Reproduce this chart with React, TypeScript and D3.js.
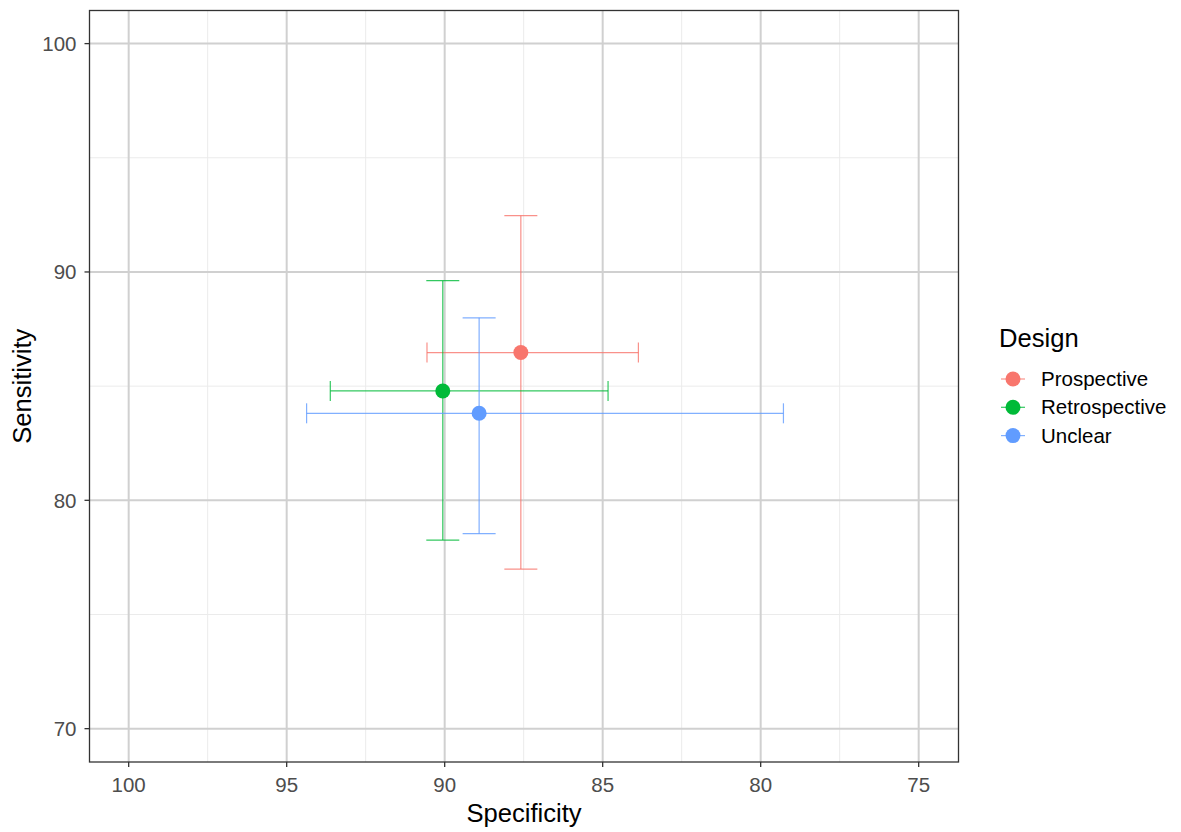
import { useEffect } from 'react';
import * as d3 from 'd3';

// study design groups, with summary estimates and 95% CI
const designs = ['Prospective', 'Retrospective', 'Unclear'];
const colors = ['#F8766D', '#00BA38', '#619CFF'];
const specificity = [87.59, 90.06, 88.91];
const specLow = [83.87, 84.83, 79.28];
const specHigh = [90.56, 93.62, 94.37];
const sensitivity = [86.47, 84.79, 83.81];
const sensLow = [76.99, 78.26, 78.54];
const sensHigh = [92.47, 89.62, 87.99];

const xTicks = [100, 95, 90, 85, 80, 75];
const xMinor = [97.5, 92.5, 87.5, 82.5, 77.5];
const yTicks = [70, 80, 90, 100];
const yMinor = [75, 85, 95];

const W = 1181;
const H = 832;
const left = 89.5;
const right = 958.5;
const top = 10.5;
const bottom = 762;

const App = () => {
  useEffect(() => {
    document.body.style.margin = '0';
  }, []);

  const x = d3.scaleLinear().domain([101.24, 73.74]).range([left, right]);
  const y = d3.scaleLinear().domain([101.45, 68.54]).range([top, bottom]);
  const font = 'Liberation Sans, Arial, sans-serif';
  const tickSize = 20.5;
  const titleSize = 25.6;

  return (
    <svg width={W} height={H} style={{ display: 'block', fontFamily: font }}>
      <rect x={left} y={top} width={right - left} height={bottom - top} fill="#fff" />
      {xMinor.map((v) => (
        <line key={'xm' + v} x1={x(v)} x2={x(v)} y1={top} y2={bottom} stroke="#ebebeb" strokeWidth={1} />
      ))}
      {yMinor.map((v) => (
        <line key={'ym' + v} x1={left} x2={right} y1={y(v)} y2={y(v)} stroke="#ebebeb" strokeWidth={1} />
      ))}
      {xTicks.map((v) => (
        <line key={'xg' + v} x1={x(v)} x2={x(v)} y1={top} y2={bottom} stroke="#d0d0d0" strokeWidth={2} />
      ))}
      {yTicks.map((v) => (
        <line key={'yg' + v} x1={left} x2={right} y1={y(v)} y2={y(v)} stroke="#d0d0d0" strokeWidth={2} />
      ))}

      {designs.map((d, i) => (
        <g key={d} stroke={colors[i]} strokeWidth={1.2} strokeOpacity={0.8}>
          <line x1={x(specLow[i])} x2={x(specHigh[i])} y1={y(sensitivity[i])} y2={y(sensitivity[i])} />
          <line x1={x(specLow[i])} x2={x(specLow[i])} y1={y(sensitivity[i]) - 10} y2={y(sensitivity[i]) + 10} />
          <line x1={x(specHigh[i])} x2={x(specHigh[i])} y1={y(sensitivity[i]) - 10} y2={y(sensitivity[i]) + 10} />
          <line x1={x(specificity[i])} x2={x(specificity[i])} y1={y(sensLow[i])} y2={y(sensHigh[i])} />
          <line x1={x(specificity[i]) - 16.5} x2={x(specificity[i]) + 16.5} y1={y(sensLow[i])} y2={y(sensLow[i])} />
          <line x1={x(specificity[i]) - 16.5} x2={x(specificity[i]) + 16.5} y1={y(sensHigh[i])} y2={y(sensHigh[i])} />
        </g>
      ))}
      {designs.map((d, i) => (
        <circle key={'p' + d} cx={x(specificity[i])} cy={y(sensitivity[i])} r={7.5} fill={colors[i]} />
      ))}

      <rect x={left} y={top} width={right - left} height={bottom - top} fill="none" stroke="#333" strokeWidth={1.3} />

      {xTicks.map((v) => (
        <g key={'xt' + v}>
          <line x1={x(v)} x2={x(v)} y1={bottom} y2={bottom + 5} stroke="#333" strokeWidth={1.3} />
          <text x={x(v)} y={792} textAnchor="middle" fontSize={tickSize} fill="#4d4d4d">{v}</text>
        </g>
      ))}
      {yTicks.map((v) => (
        <g key={'yt' + v}>
          <line x1={left - 5} x2={left} y1={y(v)} y2={y(v)} stroke="#333" strokeWidth={1.3} />
          <text x={76.5} y={y(v) + 7.3} textAnchor="end" fontSize={tickSize} fill="#4d4d4d">{v}</text>
        </g>
      ))}

      <text x={(left + right) / 2} y={822} textAnchor="middle" fontSize={titleSize} fill="#000">Specificity</text>
      <text transform={`translate(31,${(top + bottom) / 2}) rotate(-90)`} textAnchor="middle" fontSize={titleSize} fill="#000">Sensitivity</text>

      <text x={999} y={347} fontSize={titleSize} fill="#000">Design</text>
      {designs.map((d, i) => (
        <g key={'l' + d} transform={`translate(0,${379 + i * 28.3})`}>
          <line x1={1001} x2={1025} y1={0} y2={0} stroke={colors[i]} strokeWidth={1.2} strokeOpacity={0.8} />
          <circle cx={1013} cy={0} r={7.5} fill={colors[i]} />
          <text x={1041} y={7} fontSize={tickSize} fill="#000">{d}</text>
        </g>
      ))}
    </svg>
  );
};

export default App;
